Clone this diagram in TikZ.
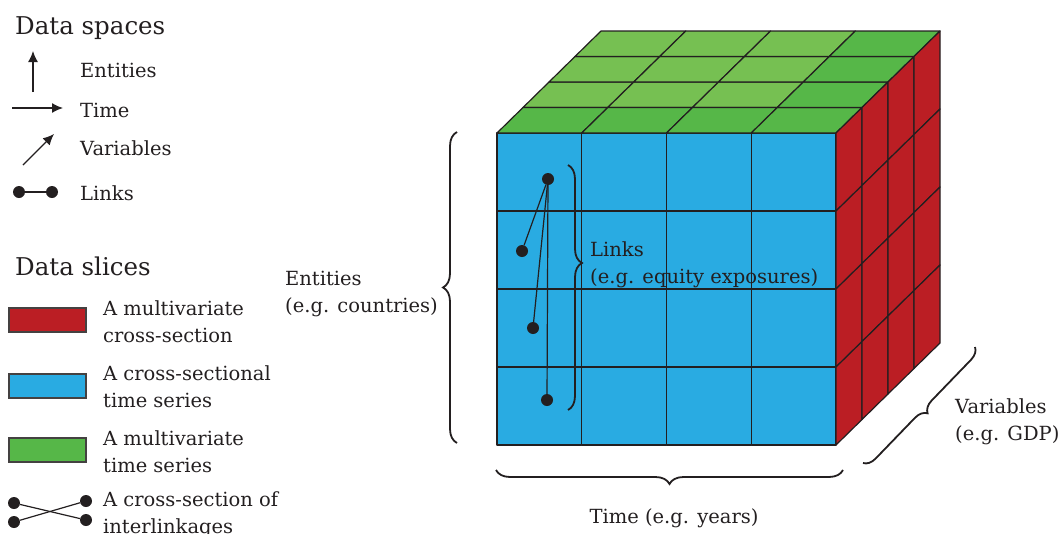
\documentclass[tikz,border=0pt]{standalone}
\usepackage{fontspec}
\setmainfont{DejaVu Serif}
\usepackage{tikz}
\usetikzlibrary{arrows.meta,positioning,calc,decorations.pathreplacing}
\definecolor{cubeblue}{RGB}{41,171,226}
\definecolor{cubered}{RGB}{187,30,36}
\definecolor{cubegreen}{RGB}{86,183,72}
\definecolor{cubelight}{RGB}{118,192,82}
\definecolor{ink}{RGB}{35,31,32}
\newcommand\lbltext{\fontsize{19.5}{26.5}\selectfont}
\newcommand\ttltext{\fontsize{24.5}{30}\selectfont}
\tikzset{
  cell/.style={draw=ink, line width=1.2pt, line join=round},
  keybox/.style={draw=ink!85, line width=1.1pt, minimum width=77pt, minimum height=24pt, inner sep=0pt},
  lbl/.style={font=\lbltext, text=ink, align=left, inner sep=0pt},
  ttl/.style={font=\ttltext, text=ink, inner sep=0pt, anchor=base west},
  arr/.style={-{Latex[length=11pt,width=10pt]}, ink, line width=1.3pt},
  link/.style={ink, line width=1.2pt},
  dot/.style={circle, fill=ink, minimum size=12pt, inner sep=0pt},
  brc/.style={decorate, decoration={brace, amplitude=14pt}, ink, line width=1.8pt},
}

\begin{document}
\begin{tikzpicture}[x=1pt,y=-1pt]
  \useasboundingbox (0,0) rectangle (1063,533);
  % data spaces
  \node[ttl] (spaces) at (15,34) {Data spaces};
  \coordinate (ent0) at (33,92); \coordinate (ent1) at (33,51);
  \draw[arr] (ent0) -- (ent1);
  \node[lbl, anchor=base west] (entkey) at (80,77) {Entities};
  \coordinate (tim0) at (12,108); \coordinate (tim1) at (63,108);
  \draw[arr] (tim0) -- (tim1);
  \node[lbl, anchor=base west] (timkey) at (80,117) {Time};
  \coordinate (var0) at (23,165); \coordinate (var1) at (54,134);
  \draw[arr] (var0) -- (var1);
  \node[lbl, anchor=base west] (varkey) at (80,155) {Variables};
  \node[dot] (k1) at (19,192) {};
  \node[dot] (k2) at (52,192) {};
  \draw[link] (k1) -- (k2);
  \node[lbl, anchor=base west] (linkkey) at (80,200) {Links};
  % data slices
  \node[ttl] (slices) at (15,275) {Data slices};
  \node[keybox, fill=cubered] (redkey) at (47.5,320) {};
  \node[lbl, anchor=base west] (redtext) at (103,342) {A multivariate\\cross-section};
  \node[keybox, fill=cubeblue] (bluekey) at (47.5,386) {};
  \node[lbl, anchor=base west] (bluetext) at (103,407) {A cross-sectional\\time series};
  \node[keybox, fill=cubegreen] (greenkey) at (47.5,450) {};
  \node[lbl, anchor=base west] (greentext) at (103,472) {A multivariate\\time series};
  \node[dot] (x1) at (14,503) {};
  \node[dot] (x2) at (14,522) {};
  \node[dot] (x3) at (86,501) {};
  \node[dot] (x4) at (86,520) {};
  \draw[link] (x1) -- (x4);
  \draw[link] (x2) -- (x3);
  \node[lbl, anchor=base west] (crosskey) at (103,533) {A cross-section of\\interlinkages};
  % cube: front, top, right
  \foreach \i in {0,...,3}
    \foreach \j in {0,...,3}
      \draw[cell, fill=cubeblue] ({497+\i*84.75},{133+\j*78}) rectangle ++(84.75,78);
  \foreach \k in {1,2,3}
    \foreach \i in {0,1,2}
      \draw[cell, fill=cubelight] ({497+\i*84.75+\k*26},{133-\k*25.5})
        -- ++(84.75,0) -- ++(26,-25.5) -- ++(-84.75,0) -- cycle;
  \foreach \i in {0,...,3}
    \draw[cell, fill=cubegreen] ({497+\i*84.75},133)
      -- ++(84.75,0) -- ++(26,-25.5) -- ++(-84.75,0) -- cycle;
  \foreach \k in {1,2,3}
    \draw[cell, fill=cubegreen] ({751.25+\k*26},{133-\k*25.5})
      -- ++(84.75,0) -- ++(26,-25.5) -- ++(-84.75,0) -- cycle;
  \foreach \k in {0,...,3}
    \foreach \j in {0,...,3}
      \draw[cell, fill=cubered] ({836+\k*26},{133+\j*78-\k*25.5})
        -- ++(26,-25.5) -- ++(0,78) -- ++(-26,25.5) -- cycle;
  % links inside the front face
  \node[dot] (n1) at (548,179) {};
  \node[dot] (n2) at (522,251) {};
  \node[dot] (n3) at (533,328) {};
  \node[dot] (n4) at (547,400) {};
  \draw[link] (n1) -- (n2);
  \draw[link] (n1) -- (n3);
  \draw[link] (n1) -- (n4);
  % braces and labels
  \coordinate (lb0) at (568,165); \coordinate (lb1) at (568,410);
  \draw[brc, decoration={aspect=0.4}] (lb0) -- (lb1);
  \node[lbl, anchor=base west] (links) at (590,283) {Links\\(e.g. equity exposures)};
  \coordinate (eb0) at (457,443); \coordinate (eb1) at (457,132);
  \draw[brc] (eb0) -- (eb1);
  \node[lbl, anchor=base west] (entities) at (285,312) {Entities\\(e.g. countries)};
  \coordinate (tb0) at (843,470); \coordinate (tb1) at (496,470);
  \draw[brc] (tb0) -- (tb1);
  \node[lbl, anchor=base] (time) at (674,523) {Time (e.g. years)};
  \coordinate (vb0) at (975,347); \coordinate (vb1) at (863,463);
  \draw[brc, decoration={amplitude=12pt}] (vb0) -- (vb1);
  \node[lbl, anchor=base west] (variables) at (955,440) {Variables\\(e.g. GDP)};
\end{tikzpicture}
\end{document}
